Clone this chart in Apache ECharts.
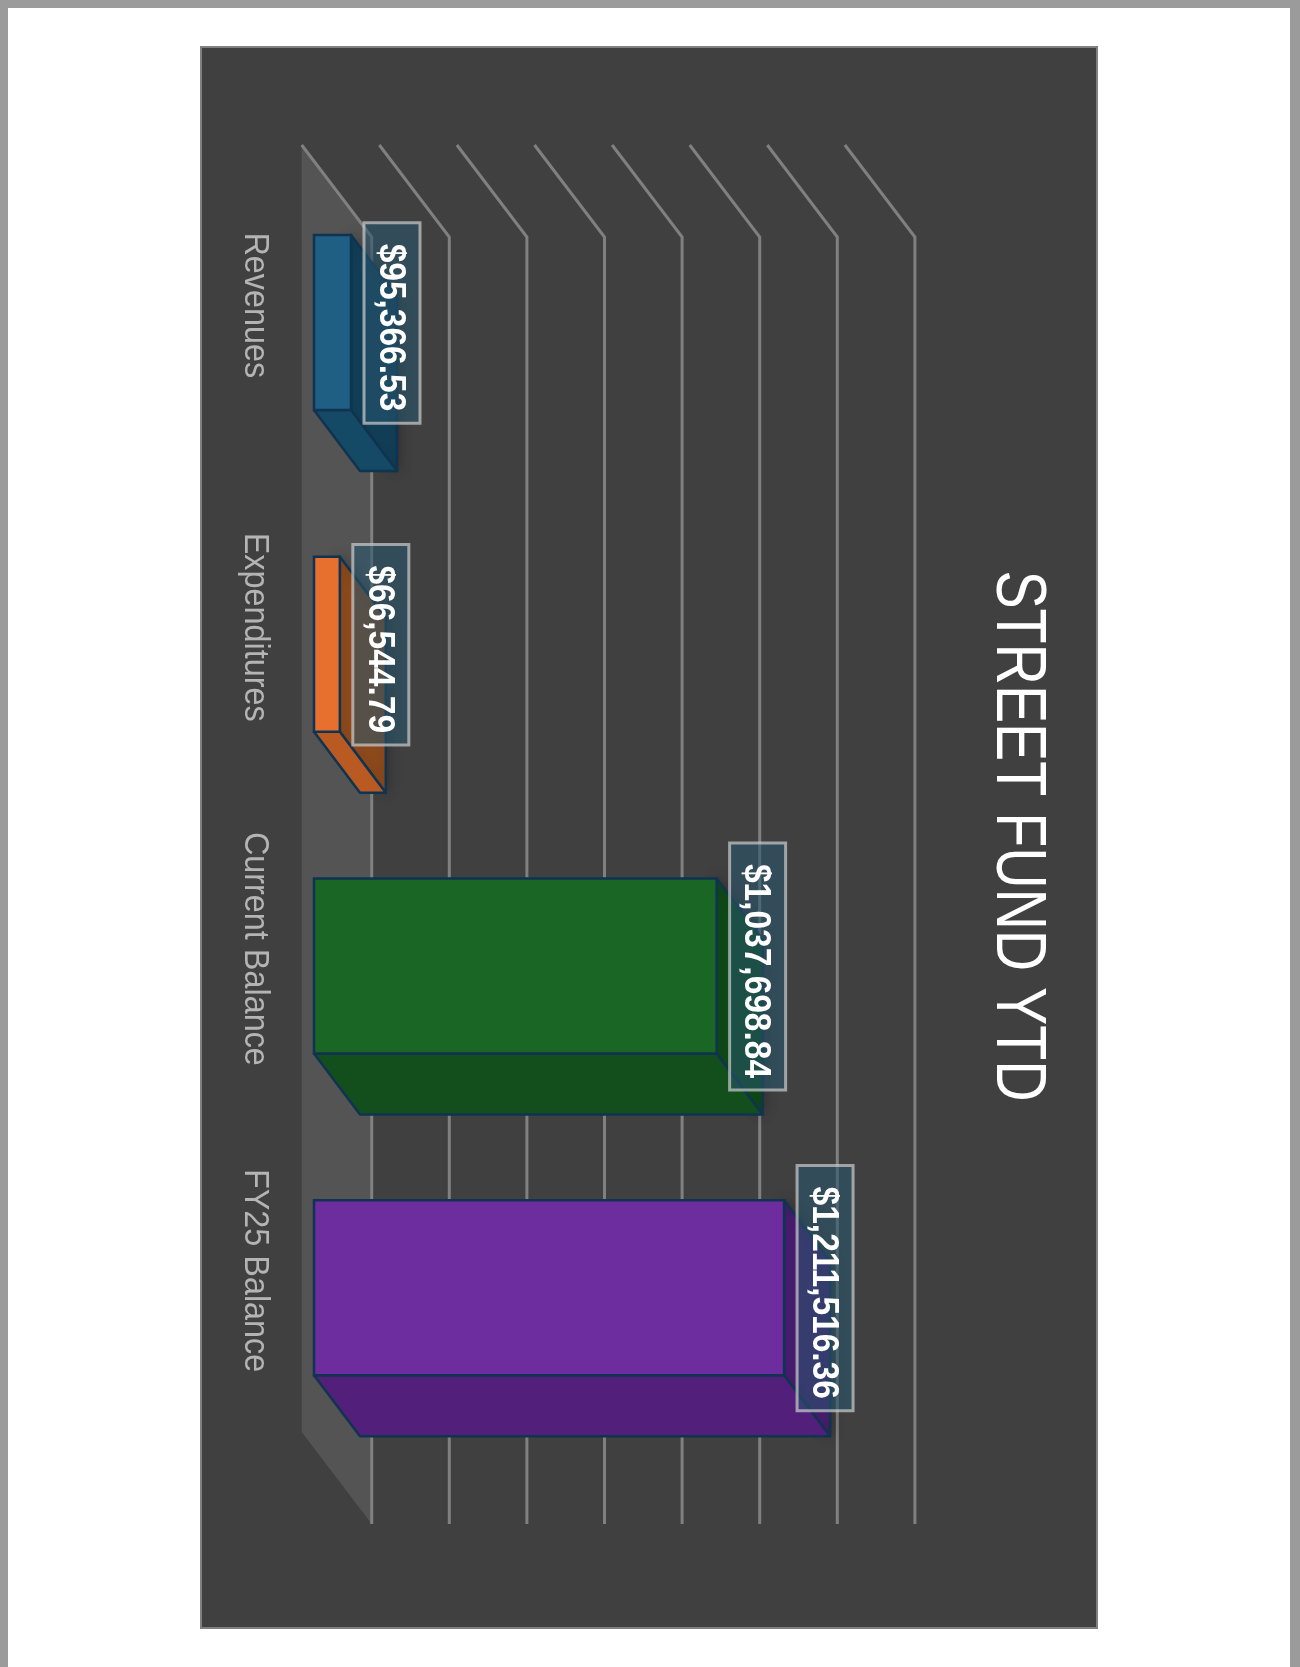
<!DOCTYPE html>
<html><head><meta charset="utf-8">
<style>html,body{margin:0;padding:0;background:#fff}#c{width:1300px;height:1667px}</style>
<script src="https://cdn.jsdelivr.net/npm/echarts@6/dist/echarts.min.js"></script>
</head><body><div id="c"></div>
<script>
const titleText = 'STREET FUND YTD';
const categories = ['Revenues', 'Expenditures', 'Current Balance', 'FY25 Balance'];
const values = [95366.53, 66544.79, 1037698.84, 1211516.36];
const valueLabels = ['$95,366.53', '$66,544.79', '$1,037,698.84', '$1,211,516.36'];
const gridTicks = [0, 200000, 400000, 600000, 800000, 1000000, 1200000, 1400000];
const frontColors = ['#1e5f83', '#e8702f', '#1a6725', '#6d2d9f'];
const sideColors = ['#123f58', '#8e4a1c', '#0f4a18', '#481e70'];
const lowerColors = ['#154a66', '#b85a22', '#134f1c', '#52207a'];

const DEPTH_X = 70, DEPTH_Y = 92;         // floor depth in px
const BAR_DX = 12.3, BAR_DY = 16.6;       // bar's offset from back wall
const BAR_DEPTH_X = 46, BAR_DEPTH_Y = 61;
const LABEL_FONT = 'bold 37px "Liberation Sans"';
const LABEL_SCALE = 0.905;
const measure = document.createElement('canvas').getContext('2d');
measure.font = LABEL_FONT;

const chart = echarts.init(document.getElementById('c'), null, {renderer: 'canvas'});

function poly(points, fill, stroke, extra) {
  return Object.assign({type: 'polygon', shape: {points},
    style: {fill, stroke: stroke || 'none', lineWidth: stroke ? 2.5 : 0, lineJoin: 'round'}}, extra || {});
}

chart.setOption({
  animation: false,
  backgroundColor: '#ffffff',
  graphic: [
    {type: 'rect', z: -10, shape: {x: 0, y: 0, width: 1300, height: 8}, style: {fill: '#9b9b9b'}},
    {type: 'rect', z: -10, shape: {x: 0, y: 0, width: 8, height: 1667}, style: {fill: '#9b9b9b'}},
    {type: 'rect', z: -10, shape: {x: 1290, y: 0, width: 10, height: 1667}, style: {fill: '#9b9b9b'}},
    {type: 'rect', z: -10, shape: {x: 201, y: 47, width: 896, height: 1581},
      style: {fill: '#404040', stroke: '#808080', lineWidth: 2}},
    {type: 'text', z: 5, x: 1016, y: 836, rotation: -Math.PI / 2, scaleX: 0.818, scaleY: 1,
      style: {text: titleText, font: '70px "Liberation Sans"', fill: '#ffffff', align: 'center', verticalAlign: 'middle'}}
  ],
  grid: {left: 301.7, top: 145, width: 543.2, height: 1287, containLabel: false},
  xAxis: {type: 'value', min: 0, max: 1400000, interval: 200000,
    axisLabel: {show: false}, axisLine: {show: false}, axisTick: {show: false}, splitLine: {show: false}},
  yAxis: {type: 'category', inverse: true, data: categories,
    axisLine: {show: false}, axisTick: {show: false}, axisLabel: {show: false}},
  series: [
    {type: 'custom', name: 'wall', z: 1, clip: false, silent: true,
      data: [[0]], encode: {x: 0},
      renderItem(params, api) {
        const cs = params.coordSys, x = api.coord([0, 0])[0];
        return poly([[x, cs.y], [x + DEPTH_X, cs.y + DEPTH_Y],
          [x + DEPTH_X, cs.y + cs.height + DEPTH_Y], [x, cs.y + cs.height]], '#545454');
      }},
    {type: 'custom', name: 'gridlines', z: 2, clip: false, silent: true,
      data: gridTicks.map(v => [v]), encode: {x: 0},
      renderItem(params, api) {
        const cs = params.coordSys, x = api.coord([api.value(0), 0])[0];
        return {type: 'polyline', shape: {points: [[x, cs.y], [x + DEPTH_X, cs.y + DEPTH_Y], [x + DEPTH_X, cs.y + cs.height + DEPTH_Y]]},
          style: {fill: 'none', stroke: '#808080', lineWidth: 3, lineJoin: 'miter'}};
      }},
    {type: 'custom', name: 'categoryLabels', z: 3, clip: false, silent: true,
      data: categories.map((c, i) => [0, i]), encode: {x: 0, y: 1},
      renderItem(params, api) {
        const i = api.value(1), p = api.coord([0, i]);
        return {type: 'text', x: p[0] - 47, y: p[1] - 0.5, rotation: -Math.PI / 2, scaleX: 0.925, scaleY: 1,
          style: {text: categories[i], font: '35px "Liberation Sans"', fill: '#b4b4b4', align: 'center', verticalAlign: 'middle'}};
      }},
    {type: 'custom', name: 'bars', z: 3, clip: false, silent: true,
      data: values.map((v, i) => [v, i]), encode: {x: 0, y: 1},
      renderItem(params, api) {
        const i = api.value(1);
        const zero = api.coord([0, i]), end = api.coord([api.value(0), i]);
        const h = api.size([0, 1])[1] * 0.544;
        const x0 = zero[0] + BAR_DX, x1 = end[0] + BAR_DX;
        const y0 = zero[1] + BAR_DY - h / 2, y1 = y0 + h;
        const sw = '#0f3350';
        const shadow = {shadowBlur: 14, shadowColor: 'rgba(0,0,0,0.28)'};
        const side = poly([[x1, y0], [x1 + BAR_DEPTH_X, y0 + BAR_DEPTH_Y], [x1 + BAR_DEPTH_X, y1 + BAR_DEPTH_Y], [x1, y1]], sideColors[i], sw);
        Object.assign(side.style, shadow);
        const lower = poly([[x0, y1], [x0 + BAR_DEPTH_X, y1 + BAR_DEPTH_Y], [x1 + BAR_DEPTH_X, y1 + BAR_DEPTH_Y], [x1, y1]], lowerColors[i], sw);
        const front = {type: 'rect', shape: {x: x0, y: y0, width: x1 - x0, height: h},
          style: {fill: frontColors[i], stroke: sw, lineWidth: 2.5}};
        return {type: 'group', children: [side, lower, front]};
      }},
    {type: 'custom', name: 'labels', z: 4, clip: false, silent: true,
      data: values.map((v, i) => [v, i]), encode: {x: 0, y: 1},
      renderItem(params, api) {
        const i = api.value(1);
        const end = api.coord([api.value(0), i]);
        const txt = valueLabels[i];
        const len = measure.measureText(txt).width * LABEL_SCALE;
        const boxH = len + 33, boxW = 56;
        const bx = end[0] + BAR_DX + 13, cy = end[1] + BAR_DY + 0.5;
        return {type: 'group', children: [
          {type: 'rect', shape: {x: bx, y: cy - boxH / 2, width: boxW, height: boxH},
            style: {fill: 'rgba(40,85,110,0.55)', stroke: 'rgba(205,205,205,0.7)', lineWidth: 3}},
          {type: 'text', x: bx + 26, y: cy + 4.5, rotation: -Math.PI / 2, scaleX: LABEL_SCALE, scaleY: 1,
            style: {text: txt, font: LABEL_FONT, fill: '#ffffff', align: 'center', verticalAlign: 'middle'}}
        ]};
      }}
  ]
});
</script></body></html>
